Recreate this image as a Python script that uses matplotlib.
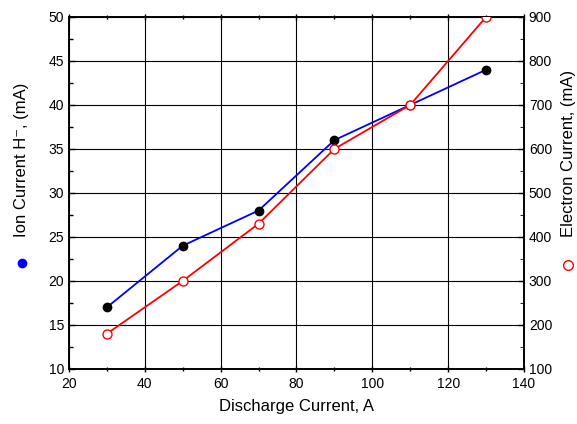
import matplotlib
matplotlib.use("Agg")
import matplotlib.pyplot as plt
from matplotlib.ticker import MultipleLocator

plt.rcParams['font.family'] = ['Liberation Sans', 'DejaVu Sans']

# Data
discharge = [30, 50, 70, 90, 110, 130]
ion_current = [17, 24, 28, 36, 40, 44]
electron_current = [180, 300, 430, 600, 700, 900]

fig = plt.figure(figsize=(5.77, 4.24), dpi=100)
ax = fig.add_axes([0.1196, 0.130, 0.7885, 0.830])
ax2 = ax.twinx()

# Ion current (left axis)
ax.plot(discharge, ion_current, '-', color='blue', lw=1.3, zorder=3)
ax.plot(discharge, ion_current, 'o', color='black', ms=6, zorder=4)

# Electron current (right axis)
ax2.plot(discharge, electron_current, '-', color='red', lw=1.3, zorder=3)
ax2.plot(discharge, electron_current, 'o', mfc='white', mec='red', ms=6.5, mew=1, zorder=4)

ax.set_xlim(20, 140)
ax.set_ylim(10, 50)
ax2.set_ylim(100, 900)

ax.xaxis.set_major_locator(MultipleLocator(20))
ax.xaxis.set_minor_locator(MultipleLocator(10))
ax.yaxis.set_major_locator(MultipleLocator(5))
ax.yaxis.set_minor_locator(MultipleLocator(2.5))
ax2.yaxis.set_major_locator(MultipleLocator(100))
ax2.yaxis.set_minor_locator(MultipleLocator(50))

ax.grid(True, which='major', color='black', lw=0.8)
ax.set_axisbelow(True)

ax.tick_params(axis='both', which='both', direction='out', labelsize=10, length=4, width=1)
ax.tick_params(axis='both', which='minor', length=3)
ax.tick_params(top=True, which='both', direction='in')
ax.tick_params(axis='x', which='both', bottom=True, direction='inout')
ax2.tick_params(axis='y', which='major', direction='in', labelsize=10, length=4, width=1)
ax2.tick_params(axis='y', which='minor', direction='in', length=3)

for a in (ax, ax2):
    for s in a.spines.values():
        s.set_linewidth(1.2)

ax.set_xlabel('Discharge Current, A', fontsize=12, labelpad=6)

# axis titles placed like the original (off-centre)
fig.text(22 / 577, 1 - 160 / 424, 'Ion Current H\u207b, (mA)', fontsize=12,
         rotation=90, ha='center', va='center')
fig.text(568 / 577, 1 - 153 / 424, 'Electron Current, (mA)', fontsize=12,
         rotation=90, ha='center', va='center')

# legend-like symbols next to the axis titles
fig.lines.append(plt.Line2D([22 / 577], [1 - 263 / 424], marker='o', color='blue',
                            ms=6, transform=fig.transFigure, figure=fig))
fig.lines.append(plt.Line2D([568 / 577], [1 - 265 / 424], marker='o', mfc='white',
                            mec='red', ms=7, mew=1, transform=fig.transFigure, figure=fig))

fig.savefig('out.png', dpi=100)
